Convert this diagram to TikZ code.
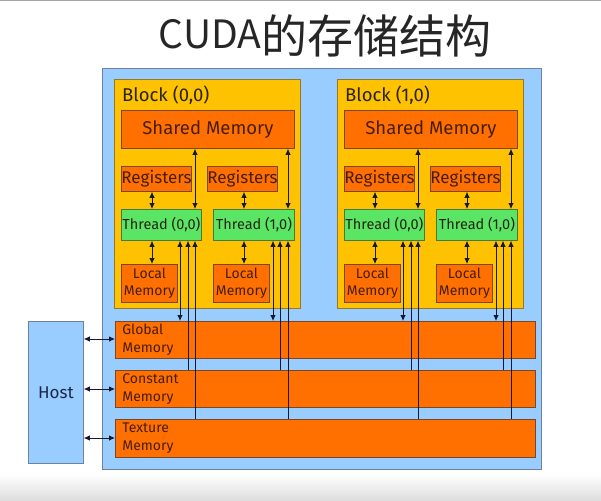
\documentclass[tikz,border=0pt]{standalone}
\usepackage{fontspec}
\setmainfont{Fira Sans}
\newfontfamily\cjk{Noto Sans CJK SC}
\usetikzlibrary{arrows.meta}
\definecolor{outerblue}{RGB}{153,204,255}
\definecolor{outerline}{RGB}{110,130,160}
\definecolor{blockfill}{RGB}{255,194,0}
\definecolor{blockline}{RGB}{150,120,40}
\definecolor{orangefill}{RGB}{255,112,0}
\definecolor{orangeline}{RGB}{120,70,40}
\definecolor{greenfill}{RGB}{90,230,100}
\definecolor{greenline}{RGB}{70,120,70}
\definecolor{txtbrown}{RGB}{70,30,5}
\definecolor{txtdark}{RGB}{40,35,20}
\definecolor{arrowc}{RGB}{20,25,50}
\definecolor{hosttxt}{RGB}{25,40,70}
\begin{document}
\begin{tikzpicture}[x=1pt,y=-1pt,
  base/.style={inner sep=0pt, anchor=north west, line width=0.8pt},
  outerbox/.style={base, draw=outerline, fill=outerblue},
  blockbox/.style={base, draw=blockline, fill=blockfill},
  orangebox/.style={base, draw=orangeline, fill=orangefill, text=txtbrown},
  greenbox/.style={base, draw=greenline, fill=greenfill, text=txtdark, font=\fontsize{14.5}{16}\selectfont},
  membox/.style={orangebox, minimum width=420pt, align=left, text width=406pt, font=\fontsize{14}{18}\selectfont},
  lbl/.style={text=txtdark, anchor=west, inner sep=0pt, font=\fontsize{18.5}{20}\selectfont},
  conn/.style={draw=arrowc, line width=0.8pt},
  tip/.style={-{Latex[length=6pt,width=5.5pt]}},
  tipb/.style={{Latex[length=6pt,width=5.5pt]}-{Latex[length=6pt,width=5.5pt]}}
]
\useasboundingbox (0,0) rectangle (601,500);
\fill[white] (0,0) rectangle (601,500);
\shade[top color=white, bottom color=black!13] (0,474) rectangle (601,500);
\draw[black!35, line width=1.5pt] (0,0.75) -- (601,0.75);

% title
\node[font=\cjk\fontsize{46}{48}\selectfont, text=black!85, anchor=base, inner sep=0pt] (title) at (325,54) {\raisebox{5pt}{\fontsize{39}{42}\selectfont CUDA}的存储结构};

% outer device box
\node[outerbox, minimum width=439pt, minimum height=401pt] (dev) at (102,68) {};

% host
\node[base, draw=outerline, fill=outerblue, minimum width=55pt, minimum height=142pt, text=hosttxt, font=\fontsize{17}{20}\selectfont] (host) at (28,321) {Host};

% global memories
\node[membox, minimum height=37pt] (glob) at (115,321) {Global\\Memory};
\node[membox, minimum height=37pt] (const) at (115,370) {Constant\\Memory};
\node[membox, minimum height=38pt] (tex) at (115,419) {Texture\\Memory};

\coordinate (hy1) at (0,339);
\coordinate (hy2) at (0,389);
\coordinate (hy3) at (0,438);
\draw[conn, tipb] (host.east |- hy1) -- (glob.west |- hy1);
\draw[conn, tipb] (host.east |- hy2) -- (const.west |- hy2);
\draw[conn, tipb] (host.east |- hy3) -- (tex.west |- hy3);

\foreach \i/\dx/\bl in {0/0/{Block (0,0)}, 1/223/{Block (1,0)}} {
  \node[blockbox, minimum width=186pt, minimum height=229pt] (blk\i) at (114+\dx,79) {};
  \node[lbl] (blbl\i) at (122+\dx,95) {\bl};
  \node[orangebox, minimum width=173pt, minimum height=38pt, font=\fontsize{18.5}{20}\selectfont] (sm\i) at (121+\dx,110) {Shared Memory};
  \node[orangebox, minimum width=68pt, minimum height=25pt, font=\fontsize{17}{18}\selectfont] (rega\i) at (121+\dx,166) {Registers};
  \node[orangebox, minimum width=69pt, minimum height=25pt, font=\fontsize{17}{18}\selectfont] (regb\i) at (207+\dx,166) {Registers};
  \node[greenbox, minimum width=80pt, minimum height=31pt] (tha\i) at (121+\dx,209) {Thread (0,0)};
  \node[greenbox, minimum width=81pt, minimum height=31pt] (thb\i) at (213+\dx,209) {Thread (1,0)};
  \node[orangebox, minimum width=56pt, minimum height=38pt, align=center, font=\fontsize{14}{17}\selectfont] (loca\i) at (121+\dx,264) {Local\\Memory};
  \node[orangebox, minimum width=56pt, minimum height=38pt, align=center, font=\fontsize{14}{17}\selectfont] (locb\i) at (213+\dx,264) {Local\\Memory};

  \coordinate (ra\i) at (152+\dx,0);
  \coordinate (rb\i) at (244+\dx,0);
  \coordinate (ga\i) at (180+\dx,0);
  \coordinate (gb\i) at (273+\dx,0);
  \coordinate (ca\i) at (188+\dx,0);
  \coordinate (cb\i) at (280+\dx,0);
  \coordinate (ta\i) at (195+\dx,0);
  \coordinate (tb\i) at (288+\dx,0);

  % registers <-> thread
  \draw[conn, tipb] (rega\i.south -| ra\i) -- (tha\i.north -| ra\i);
  \draw[conn, tipb] (regb\i.south -| rb\i) -- (thb\i.north -| rb\i);
  % thread <-> local
  \draw[conn, tipb] (tha\i.south -| ra\i) -- (loca\i.north -| ra\i);
  \draw[conn, tipb] (thb\i.south -| rb\i) -- (locb\i.north -| rb\i);
  % shared <-> thread
  \draw[conn, tipb] (sm\i.south -| ta\i) -- (tha\i.north -| ta\i);
  \draw[conn, tipb] (sm\i.south -| tb\i) -- (thb\i.north -| tb\i);
  % thread <-> global
  \draw[conn, tipb] (tha\i.south -| ga\i) -- (glob.north -| ga\i);
  \draw[conn, tipb] (thb\i.south -| gb\i) -- (glob.north -| gb\i);
  % constant -> thread
  \draw[conn, tip] (const.north -| ca\i) -- (tha\i.south -| ca\i);
  \draw[conn, tip] (const.north -| cb\i) -- (thb\i.south -| cb\i);
  % texture -> thread
  \draw[conn, tip] (tex.north -| ta\i) -- (tha\i.south -| ta\i);
  \draw[conn, tip] (tex.north -| tb\i) -- (thb\i.south -| tb\i);
}
\end{tikzpicture}
\end{document}
